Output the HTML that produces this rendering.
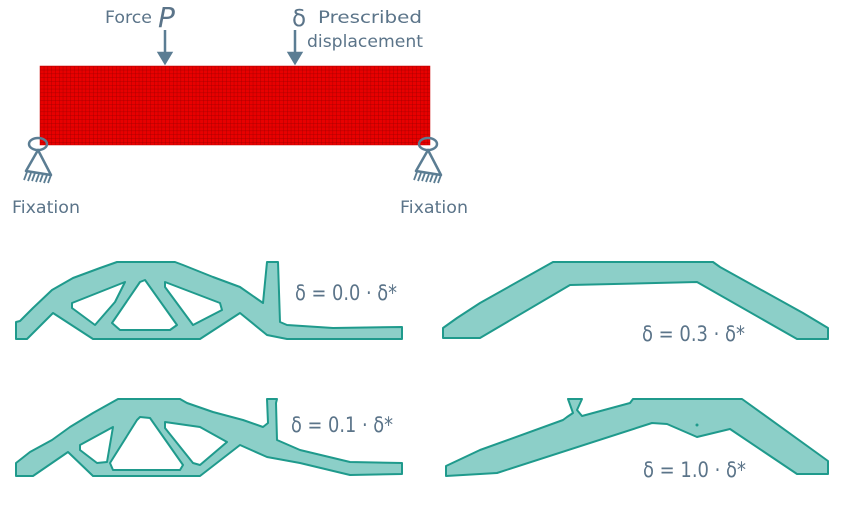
<!DOCTYPE html>
<html><head><meta charset="utf-8"><style>
html,body{margin:0;padding:0;background:#fff;}
svg{display:block;}
text{font-family:"DejaVu Sans","Liberation Sans",sans-serif;fill:#5b7489;}
</style></head><body>
<svg width="845" height="507" viewBox="0 0 845 507" xmlns="http://www.w3.org/2000/svg">
<defs>
<pattern id="g" width="3.8" height="3.8" patternUnits="userSpaceOnUse" x="40" y="66">
<rect width="3.8" height="3.8" fill="#e80000"/>
<path d="M0 0H3.8M0 0V3.8" stroke="#9a0000" stroke-width="0.7"/>
</pattern>
<g id="sup" stroke="#5b7d93" fill="none" stroke-width="2.5">
<ellipse cx="0" cy="0" rx="9" ry="6"/>
<path d="M0 6 L-12 27 L13 31 Z" stroke-linejoin="round"/>
<path d="M-11 28 l-3 8 M-7 29 l-3 8 M-3 29 l-3 8 M1 30 l-3 8 M5 30 l-3 8 M9 31 l-3 8 M13 31 l-3 8" stroke-width="1.8"/>
</g>
</defs>
<rect x="40" y="66" width="390" height="79" fill="url(#g)" stroke="#c00" stroke-width="0.5"/>
<use href="#sup" x="38" y="144"/>
<use href="#sup" x="428" y="144"/>
<g stroke="#5b7d93" stroke-width="2.5" fill="#5b7d93">
<line x1="165" y1="30" x2="165" y2="55"/><path d="M159 53 L171 53 L165 63Z"/>
<line x1="295" y1="30" x2="295" y2="55"/><path d="M289 53 L301 53 L295 63Z"/>
</g>
<text x="105" y="23" font-size="17" textLength="47" lengthAdjust="spacingAndGlyphs">Force</text>
<text x="158" y="27" font-size="28" font-style="italic" font-family="Liberation Sans">P</text>
<text x="292" y="26" font-size="23">δ</text>
<text x="318" y="23" font-size="17" textLength="104" lengthAdjust="spacingAndGlyphs">Prescribed</text>
<text x="307" y="47" font-size="17" textLength="116" lengthAdjust="spacingAndGlyphs">displacement</text>
<text x="12" y="213" font-size="17" textLength="68" lengthAdjust="spacingAndGlyphs">Fixation</text>
<text x="400" y="213" font-size="17" textLength="68" lengthAdjust="spacingAndGlyphs">Fixation</text>

<g fill="#8ccfc8" stroke="#1f9a8c" stroke-width="2" fill-rule="evenodd" stroke-linejoin="round">
<path d="M16 322 L20 321 L33 308 L52 290 L73 278 L100 268 L117 262 L175 262 L183 265 L213 277 L240 287 L263 303 L267 262 L278 262 L280 322 L287 325 L333 328 L402 327 L402 339 L287 339 L267 335 L240 313 L200 339 L93 339 L53 313 L27 339 L16 339 Z
M72 303 L125 282 L115 302 L95 325 L72 308 Z
M145 280 L177 325 L170 330 L120 330 L112 323 L140 282 Z
M165 282 L220 303 L222 310 L193 325 L165 287 Z"/>
<path d="M16 463 L30 452 L52 440 L70 427 L93 413 L118 399 L180 399 L187 403 L213 412 L243 420 L263 427 L268 423 L267 399 L277 399 L276 403 L277 440 L300 450 L350 462 L402 463 L402 474 L350 475 L300 463 L267 457 L240 445 L200 476 L93 476 L68 452 L33 476 L16 476 Z
M80 445 L113 427 L107 462 L97 463 L80 450 Z
M140 417 L150 418 L183 465 L180 470 L113 470 L110 463 L137 420 Z
M165 422 L200 427 L227 442 L200 465 L193 463 L165 428 Z"/>
<path d="M443 328 L457 318 L480 303 L553 262 L713 262 L720 267 L803 313 L828 328 L828 339 L797 339 L697 282 L570 285 L480 338 L443 338 Z"/>
<path d="M446 466 L480 450 L563 420 L567 417 L573 413 L568 399 L582 399 L577 410 L582 416 L630 403 L633 399 L742 399 L828 461 L828 474 L797 474 L730 429 L697 437 L667 424 L652 423 L497 473 L446 476 Z"/>
</g>
<circle cx="697" cy="425" r="1.5" fill="#1f9a8c"/>
<text x="295" y="300" font-size="21" textLength="102" lengthAdjust="spacingAndGlyphs">δ = 0.0 · δ*</text>
<text x="291" y="432" font-size="21" textLength="102" lengthAdjust="spacingAndGlyphs">δ = 0.1 · δ*</text>
<text x="642" y="341" font-size="21" textLength="103" lengthAdjust="spacingAndGlyphs">δ = 0.3 · δ*</text>
<text x="643" y="477" font-size="21" textLength="103" lengthAdjust="spacingAndGlyphs">δ = 1.0 · δ*</text>
</svg>
</body></html>
